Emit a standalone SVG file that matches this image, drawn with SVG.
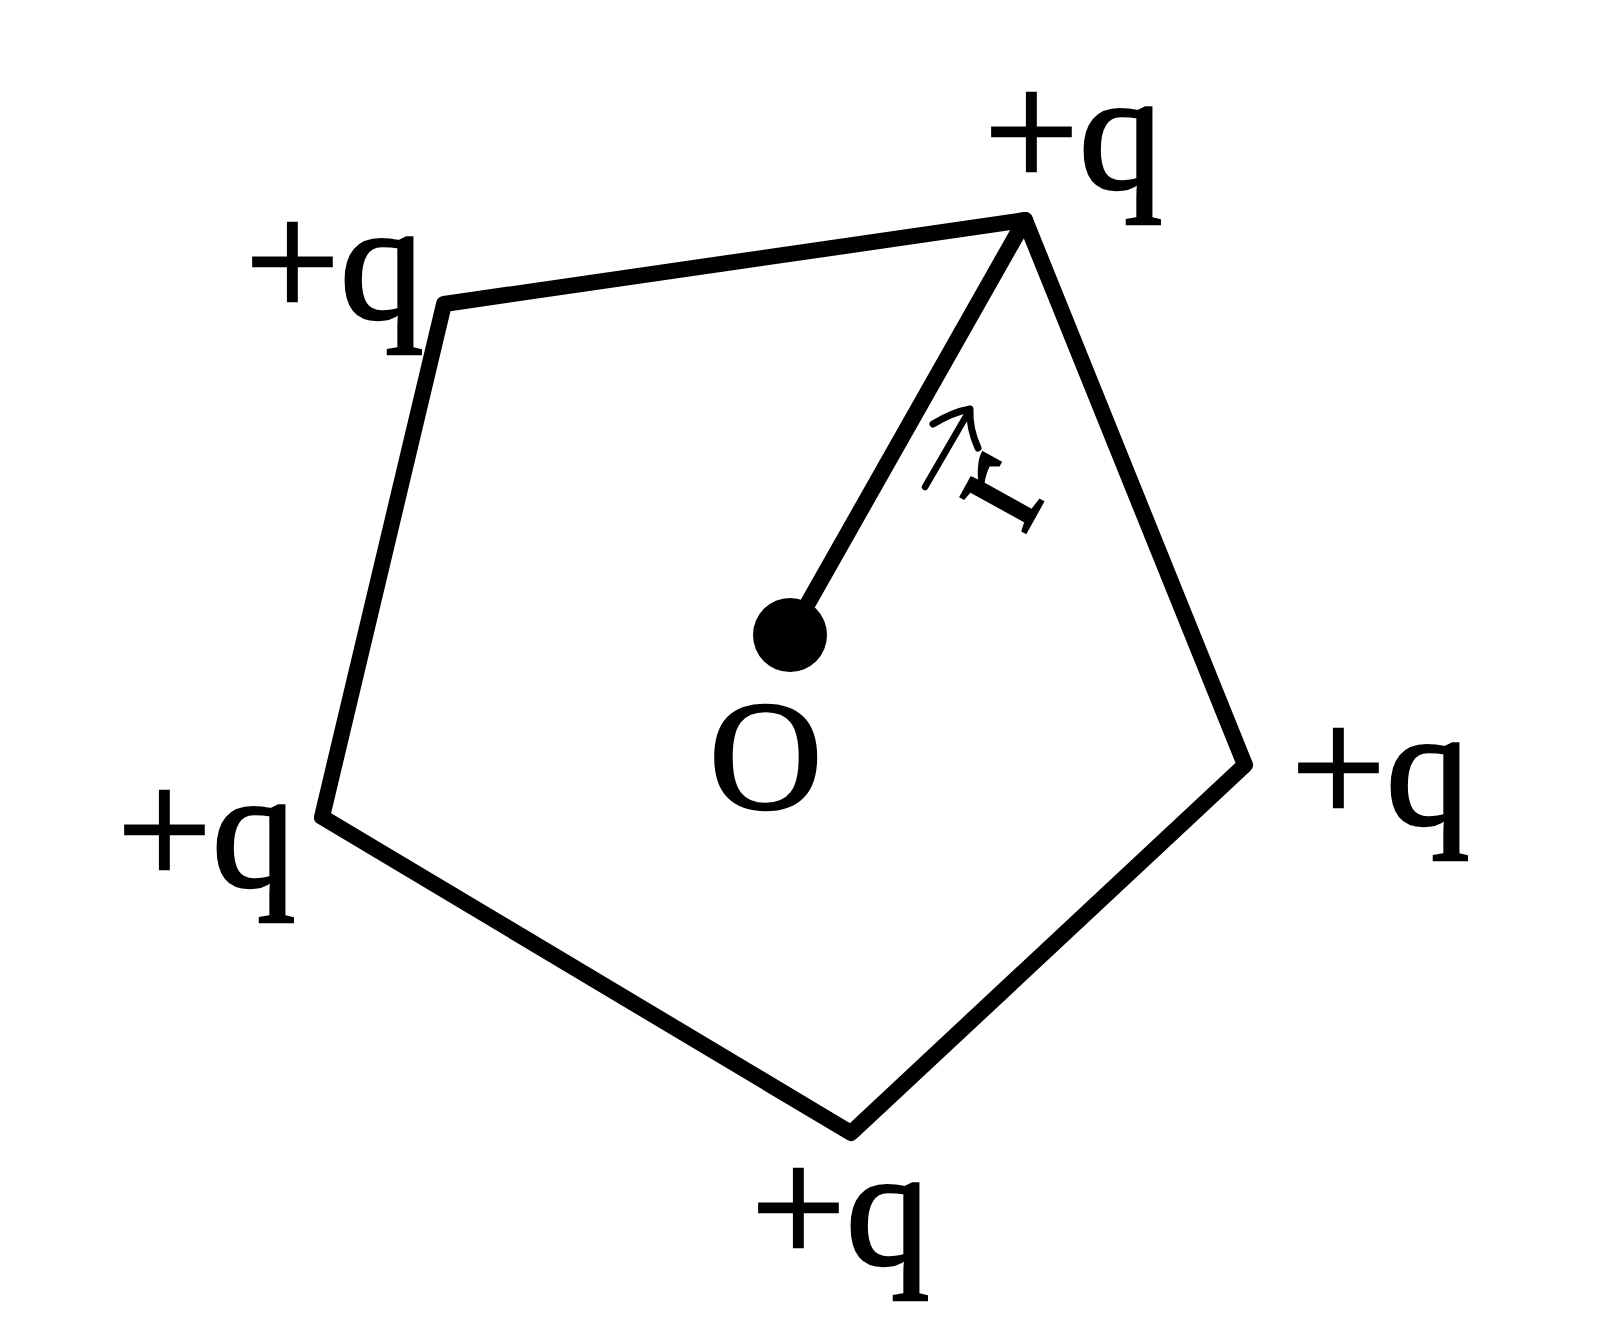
<svg xmlns="http://www.w3.org/2000/svg" width="1600" height="1339" viewBox="0 0 1600 1339">
<style>
.lbl{font-family:"Liberation Serif","Times New Roman",serif;font-size:168px;fill:#000;stroke:#000;stroke-width:2.5}
.edge{fill:none;stroke:#000;stroke-width:16;stroke-linejoin:round;stroke-linecap:round}
</style>
<rect width="1600" height="1339" fill="#fff"/>
<g id="connectors">
<polygon class="edge" points="1025,220 1245,765 851,1133 322,817 444,304"/>
<line class="edge" x1="790" y1="635" x2="1025" y2="220"/>
</g>
<g id="O">
<circle cx="790" cy="635" r="37" fill="#000"/>
<text class="lbl" x="709" y="808" style="font-size:157px">O</text>
</g>
<g id="r-label">
<line x1="925" y1="487" x2="968" y2="413" stroke="#000" stroke-width="6.5" stroke-linecap="round"/>
<path d="M933,424 Q953,412 970,409 Q969,428 978,448" fill="none" stroke="#000" stroke-width="7" stroke-linecap="round" stroke-linejoin="round"/>
<text class="lbl" transform="translate(1005,494) rotate(-61)" x="0" y="37" text-anchor="middle" style="font-size:162px">r</text>
</g>
<g id="q-top"><text class="lbl" x="984" y="188">+q</text></g>
<g id="q-lefttop"><text class="lbl" x="245" y="318">+q</text></g>
<g id="q-left"><text class="lbl" x="117" y="886">+q</text></g>
<g id="q-right"><text class="lbl" x="1291" y="824">+q</text></g>
<g id="q-bottom"><text class="lbl" x="751" y="1264">+q</text></g>
</svg>
